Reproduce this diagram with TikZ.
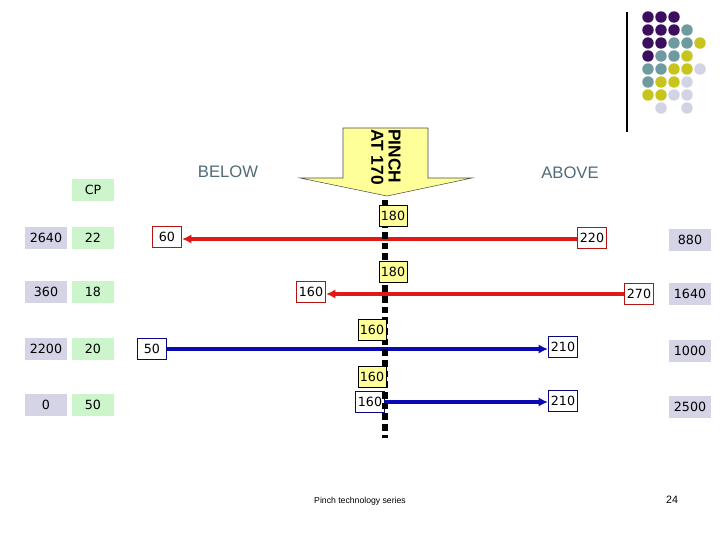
\documentclass[tikz,border=0pt]{standalone}
\usepackage{fontspec}
\usetikzlibrary{arrows.meta}
\setmainfont{DejaVu Sans}
\newfontfamily\arialf{Liberation Sans}
\definecolor{lav}{HTML}{D4D4E6}
\definecolor{grn}{HTML}{CCF5CC}
\definecolor{yel}{HTML}{FFFF99}
\definecolor{pinkred}{HTML}{E01818}
\definecolor{dblue}{HTML}{0A0AB4}
\definecolor{hdr}{HTML}{506A78}
\definecolor{dP}{HTML}{3C0F5E}
\definecolor{dT}{HTML}{6F9A9E}
\definecolor{dY}{HTML}{C8C41E}
\definecolor{dL}{HTML}{D3D3E6}
\begin{document}
\begin{tikzpicture}[x=0.75pt,y=-0.75pt,
  every node/.style={font=\fontsize{9.5}{10}\selectfont, inner sep=0pt},
  gbox/.style={fill=lav, minimum width=32pt, minimum height=16pt},
  cbox/.style={fill=grn, minimum width=32pt, minimum height=16pt},
  rbox/.style={draw=pinkred!80!black, fill=white, line width=0.6pt, minimum width=22pt, minimum height=16pt},
  bbox/.style={draw=dblue!70!black, fill=white, line width=0.6pt, minimum width=22pt, minimum height=16pt},
  ybox/.style={draw=black, fill=yel, line width=0.5pt, minimum width=21pt, minimum height=16pt},
  hot/.style={draw=pinkred, line width=3pt, -{Latex[length=7pt,width=7pt]}},
  cold/.style={draw=dblue, line width=3pt, -{Latex[length=7pt,width=7pt]}},
  hdrtxt/.style={text=hdr, font=\arialf\fontsize{12.5}{14}\selectfont},
  dot/.style={circle, minimum size=8.6pt}]
\useasboundingbox (0,0) rectangle (720,540);
% pinch arrow
\draw[fill=yel, draw=black!70, line width=0.4pt] (343,128) -- (428,128) -- (428,178) -- (472,178) -- (387,196) -- (300,178) -- (343,178) -- cycle;
\node[rotate=-90, align=left, font=\arialf\bfseries\fontsize{13}{13}\selectfont] (pinch) at (386,157) {PINCH\\AT 170};
\node[hdrtxt] (below) at (228,172) {BELOW};
\node[hdrtxt] (above) at (570,173) {ABOVE};
\node[cbox, minimum height=17pt] (cp) at (93,190) {CP};
% rows
\foreach \y/\a/\b/\c [count=\i] in {238/2640/22/880, 292/360/18/1640, 349/2200/20/1000, 405/0/50/2500}{
  \node[gbox] (l\i) at (46,\y) {\a};
  \node[cbox] (c\i) at (93,\y) {\b};
  \node[gbox] (r\i) at (690,\y+2) {\c};
}
\node[rbox] (s1) at (592,238) {220};
\node[rbox] (t1) at (167,237) {60};
\node[rbox] (s2) at (639,294) {270};
\node[rbox] (t2) at (311,292) {160};
\node[bbox] (s3) at (152,349) {50};
\node[bbox] (t3) at (563,347) {210};
\node[bbox] (s4) at (370,402) {160};
\node[bbox] (t4) at (563,401) {210};
\draw[hot] (s1.west |- 0,239) -- (t1.east |- 0,239);
\draw[hot] (s2.west |- 0,294) -- (t2.east |- 0,294);
\draw[cold] (s3.east |- 0,349) -- (t3.west |- 0,349);
\draw[cold] (s4.east |- 0,402) -- (t4.west |- 0,402);
% pinch line
\coordinate (pt) at (385,200);
\coordinate (pb) at (385,438);
\draw[line width=4pt, dash pattern=on 5pt off 3pt] (pt) -- (pb);
\node[ybox] (y1) at (393,216) {180};
\node[ybox] (y2) at (393,272) {180};
\node[ybox] (y3) at (372,330) {160};
\node[ybox] (y4) at (372,377) {160};
\node[font=\arialf\fontsize{6.5}{7}\selectfont] (foot) at (360,501) {Pinch technology series};
\node[font=\arialf\fontsize{8}{9}\selectfont] (pg) at (672,500) {24};
% decoration
\draw[line width=0.8pt] (627,12) -- (627,132);
\foreach \row [count=\r from 0] in {{P,P,P,N,N},{P,P,P,T,N},{P,P,T,T,Y},{P,T,T,Y,N},{T,T,Y,Y,L},{T,Y,Y,L,N},{Y,Y,L,L,N},{N,L,N,L,N}}{
  \foreach \c [count=\k from 0] in \row {
    \if\c N\else
      \node[dot, fill=d\c] (d\r\k) at (648+13*\k,17+13*\r) {};
    \fi
  }
}
\end{tikzpicture}
\end{document}
